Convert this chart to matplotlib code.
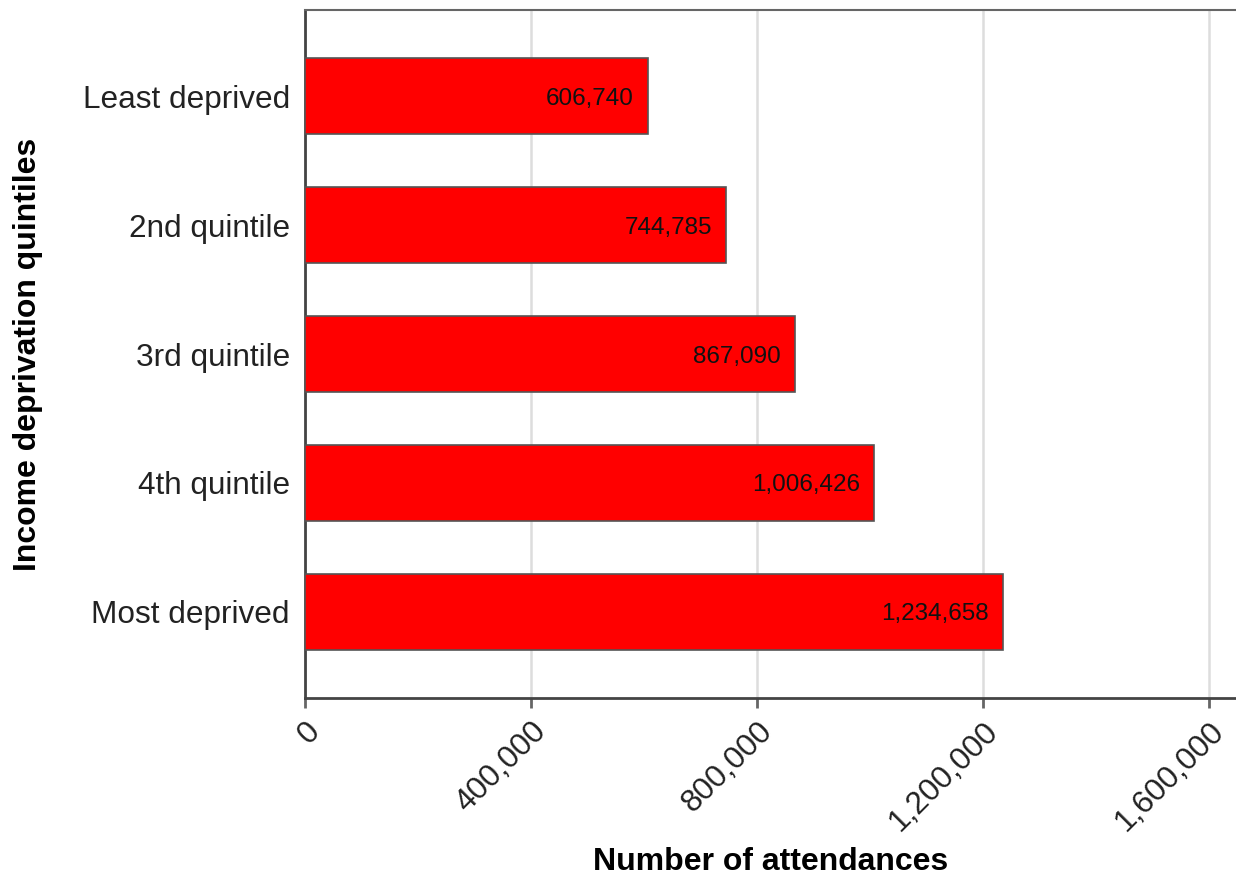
import matplotlib
matplotlib.use('Agg')
from matplotlib import pyplot as plt
from matplotlib.ticker import FuncFormatter

quintiles = ['Least deprived', '2nd quintile', '3rd quintile', '4th quintile', 'Most deprived']
attendances = [606740, 744785, 867090, 1006426, 1234658]
x_ticks = [0, 400000, 800000, 1200000, 1600000]

plt.rcParams['font.family'] = ['Liberation Sans', 'DejaVu Sans']

fig = plt.figure(figsize=(12.36, 8.81), dpi=100)
ax = fig.add_axes([0.2468, 0.2077, 0.7532, 0.7809])

ax.barh(range(len(quintiles)), attendances, height=0.59, color='#ff0000',
        edgecolor='#555555', linewidth=1.2, zorder=3)

for i, v in enumerate(attendances):
    ax.annotate(f'{v:,}', xy=(v, i), xytext=(-10, 0), textcoords='offset points',
                ha='right', va='center_baseline', fontsize=17.5, color='#111111', zorder=4)

ax.set_yticks(range(len(quintiles)))
ax.set_yticklabels(quintiles, fontsize=22.7, color='#222222')
ax.set_ylim(4.67, -0.67)
ax.set_xlim(0, 1648000)
ax.set_xticks(x_ticks)
ax.xaxis.set_major_formatter(FuncFormatter(lambda x, p: f'{int(x):,}'))
plt.setp(ax.get_xticklabels(), rotation=45, ha='right', va='top',
         rotation_mode='anchor', fontsize=22.7, color='#222222')

ax.tick_params(axis='y', length=0, pad=11)
ax.tick_params(axis='x', length=7, width=2, color='#666666', pad=6)
ax.grid(axis='x', color='#dddddd', linewidth=1.8, zorder=0)
ax.set_axisbelow(True)

ax.spines['right'].set_visible(False)
for s in ['left', 'bottom']:
    ax.spines[s].set_color('#444444')
    ax.spines[s].set_linewidth(2)
ax.spines['top'].set_color('#666666')
ax.spines['top'].set_linewidth(1.5)

ax.set_xlabel('Number of attendances', fontsize=23, fontweight='bold')
ax.set_ylabel('Income deprivation quintiles', fontsize=23, fontweight='bold')
ax.xaxis.set_label_coords(0.5, -0.216)
ax.yaxis.set_label_coords(-0.281, 0.5)

plt.savefig('out.png', dpi=100)
